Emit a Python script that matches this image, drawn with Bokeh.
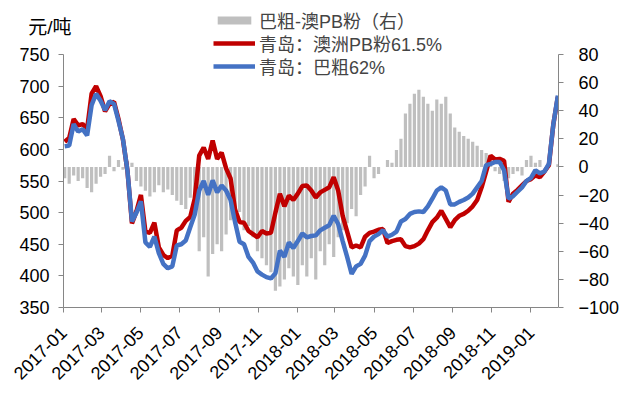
import pandas as pd
from math import pi
from bokeh.plotting import figure
from bokeh.models import (Range1d, LinearAxis, FixedTicker, DatetimeTickFormatter,
                          Legend, LegendItem, Label, ColumnDataSource)
from bokeh.embed import file_html
from bokeh.resources import INLINE

# ---------------- data (weekly) ----------------
start_date = "2017-01-03"

red_pb = [612, 618, 648, 638, 640, 632, 688, 700, 684, 660,
          672, 675, 648, 615, 566, 483, 502, 528, 470, 468,
          484, 445, 433, 428, 432, 472, 476, 487, 493, 522,
          590, 603, 585, 614, 585, 595, 570, 554, 505, 485,
          484, 471, 466, 461, 471, 467, 468, 500, 530, 510,
          527, 520, 530, 542, 543, 535, 524, 532, 536, 540,
          556, 535, 495, 470, 445, 448, 445, 462, 468, 470,
          473, 474, 452, 455, 457, 458, 447, 445, 447, 451,
          458, 472, 485, 492, 503, 490, 477, 488, 495, 498,
          503, 510, 520, 540, 565, 590, 584, 585, 582, 517,
          530, 536, 543, 550, 553, 559, 556, 565, 575, 640,
          683]

blue_br = [605, 606, 640, 628, 632, 622, 670, 688, 677, 662,
           676, 672, 645, 616, 566, 486, 500, 518, 453, 446,
           462, 436, 419, 412, 415, 448, 450, 456, 477, 497,
           535, 550, 528, 551, 532, 543, 535, 520, 485, 454,
           450, 430, 421, 407, 402, 398, 396, 404, 440, 430,
           453, 444, 455, 467, 461, 463, 464, 472, 476, 480,
           495, 482, 455, 430, 403, 415, 419, 432, 455, 462,
           466, 472, 462, 465, 470, 486, 490, 498, 501, 502,
           501, 510, 522, 535, 540, 535, 513, 513, 517, 520,
           524, 530, 540, 550, 575, 577, 580, 580, 567, 522,
           526, 533, 540, 550, 555, 567, 562, 565, 577, 640,
           685]

spread = [-8, -12, -6, -10, -8, -15, -18, -12, -7, -5,
          8, -3, 5, -2, 4, 3, -10, -14, -17, -21,
          -18, -13, -18, -16, -20, -24, -27, -30, -22, -30,
          -60, -50, -78, -62, -55, -60, -48, -38, -40, -32,
          -45, -42, -50, -60, -65, -70, -75, -88, -85, -80,
          -72, -78, -84, -70, -78, -65, -80, -60, -70, -55,
          -64, -50, -45, -40, -30, -35, -20, -14, 8, -8,
          -5, 0, 5, 3, 12, 20, 38, 45, 52, 55,
          50, 45, 40, 48, 45, 50, 38, 28, 25, 22,
          20, 18, 15, 12, 10, 5, -3, -5, -10, -8,
          -5, -3, -6, 5, 8, 3, 5, 0, 2, 0,
          2]

x_tick_labels = ["2017-01", "2017-03", "2017-05", "2017-07", "2017-09", "2017-11",
                 "2018-01", "2018-03", "2018-05", "2018-07", "2018-09", "2018-11",
                 "2019-01"]
left_ticks = [350, 400, 450, 500, 550, 600, 650, 700, 750]
right_ticks = [-100, -80, -60, -40, -20, 0, 20, 40, 60, 80]

series_names = ["巴粗-澳PB粉（右）", "青岛：澳洲PB粉61.5%", "青岛：巴粗62%"]
unit_label = "元/吨"

# ---------------- build ----------------
dates = pd.date_range(start_date, periods=len(red_pb), freq="7D")
src = ColumnDataSource(dict(date=dates, red=red_pb, blue=blue_br, spread=spread))

x_axis_start = pd.Timestamp("2017-01-01")
x_axis_end = pd.Timestamp("2019-02-13")
left_lo, left_hi = 350, 750
right_lo, right_hi = -100, 80

# geometry (pixels): axis box x=63.5..564, y=54..307.  The frame is extended
# up, left and down so that the legend, unit label and the fixed-location
# left/bottom axes (whose texts lie outside the axis box) are not clipped.
W, H = 622, 390
box_l, box_r, box_t, box_b = 63.5, 564, 54, 307
frame_l, frame_t, frame_b = 10, 5, 388
px_per_ms = (box_r - box_l) / (x_axis_end - x_axis_start).value * 1e6
x_start = x_axis_start - pd.Timedelta(milliseconds=(box_l - frame_l) / px_per_ms)
up = (box_t - frame_t) / (box_b - box_t)
down = (frame_b - box_b) / (box_b - box_t)
y_lo = left_lo - (left_hi - left_lo) * down
y_hi = left_hi + (left_hi - left_lo) * up
yr_lo = right_lo - (right_hi - right_lo) * down
yr_hi = right_hi + (right_hi - right_lo) * up

p = figure(width=W, height=H, x_axis_type="datetime",
           x_range=Range1d(x_start, x_axis_end),
           y_range=Range1d(y_lo, y_hi),
           output_backend="svg", toolbar_location=None,
           min_border_left=frame_l, min_border_right=W - box_r,
           min_border_top=frame_t, min_border_bottom=H - frame_b)
p.extra_y_ranges = {"right": Range1d(yr_lo, yr_hi)}

bars = p.vbar(x="date", top="spread", bottom=0, width=5 * 86400000, source=src,
              y_range_name="right", fill_color="#BFBFBF", line_color=None)
red = p.line(x="date", y="red", source=src, line_color="#C00000", line_width=4.5)
blue = p.line(x="date", y="blue", source=src, line_color="#4472C4", line_width=4.5)

right_axis = LinearAxis(y_range_name="right")
p.add_layout(right_axis, "right")

tick_ms = [pd.Timestamp(t + "-01").value / 1e6 for t in x_tick_labels]
xaxis = p.xaxis[0]
xaxis.ticker = FixedTicker(ticks=tick_ms)
fmt = "%Y-%m"
xaxis.formatter = DatetimeTickFormatter(days=fmt, months=fmt, years=fmt, hours=fmt,
                                        minutes=fmt, seconds=fmt, milliseconds=fmt,
                                        microseconds=fmt, minsec=fmt, hourmin=fmt)
xaxis.major_label_orientation = pi / 4
xaxis.bounds = (x_axis_start.value / 1e6, x_axis_end.value / 1e6)
xaxis.fixed_location = left_lo

left_axis = p.yaxis[0]
left_axis.ticker = FixedTicker(ticks=left_ticks)
left_axis.bounds = (left_lo, left_hi)
left_axis.fixed_location = x_axis_start.value / 1e6
right_axis.ticker = FixedTicker(ticks=right_ticks)
right_axis.bounds = (right_lo, right_hi)

for ax in [xaxis, left_axis, right_axis]:
    ax.axis_line_color = "#868686"
    ax.major_tick_line_color = "#868686"
    ax.major_tick_out = 5
    ax.major_tick_in = 0
    ax.minor_tick_line_color = None
    ax.major_label_text_font = "Liberation Sans"
    ax.major_label_text_font_size = "18px"
    ax.major_label_text_color = "black"
    ax.major_label_standoff = 9
xaxis.major_label_standoff = 17
right_axis.major_label_standoff = 15

p.xgrid.grid_line_color = None
p.ygrid.grid_line_color = None
p.outline_line_color = None

mixed_font = "Liberation Sans, Noto Sans CJK SC"

# legend rows (each location = bottom-left corner, relative to the frame)
row_renderers = [bars, red, blue]
row_centers = [22, 45, 68]
for name, rend, cy in zip(series_names, row_renderers, row_centers):
    lg = Legend(items=[LegendItem(label=name, renderers=[rend])],
                location=(213 - frame_l, frame_b - (cy + 11)), orientation="vertical",
                glyph_width=42, glyph_height=10, label_height=20,
                label_text_font=mixed_font, label_text_font_size="18px",
                label_standoff=4, spacing=0, padding=0, margin=0,
                border_line_color=None, background_fill_alpha=0)
    p.add_layout(lg)

# unit label, above-left of the axis box
p.add_layout(Label(x=pd.Timestamp("2016-11-07"), y=left_hi + (box_t - 27) * (left_hi - left_lo) / (box_b - box_t),
                   x_units="data", y_units="data",
                   text=unit_label, text_font=mixed_font, text_font_size="19px",
                   text_baseline="middle", text_color="black"))

open("out.html", "w").write(file_html(p, INLINE))
